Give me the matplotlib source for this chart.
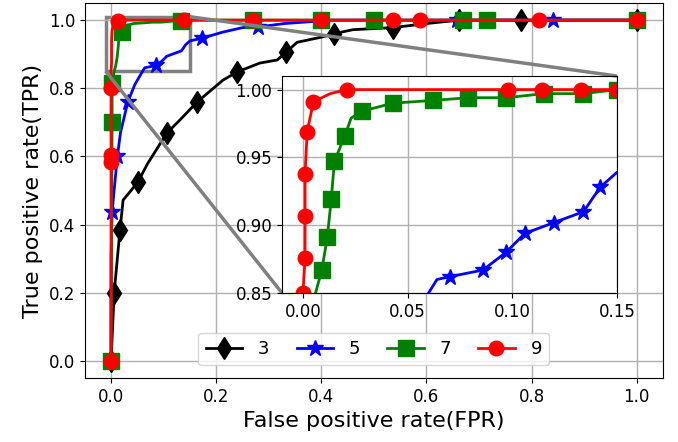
import matplotlib
matplotlib.use("Agg")
import matplotlib.pyplot as plt
from mpl_toolkits.axes_grid1.inset_locator import mark_inset


# ROC curves (false positive rate, true positive rate)
fpr3 = [0, 0.006, 0.017, 0.023, 0.036, 0.051, 0.07, 0.106, 0.131, 0.164, 0.213, 0.24,
        0.283, 0.316, 0.333, 0.354, 0.40, 0.424, 0.46, 0.536, 0.60, 0.662, 0.78, 1.0]
tpr3 = [0, 0.20, 0.384, 0.472, 0.496, 0.525, 0.58, 0.668, 0.707, 0.76, 0.824, 0.848,
        0.874, 0.883, 0.906, 0.935, 0.95, 0.960, 0.972, 0.978, 0.99, 1.0, 1.0, 1.0]

fpr5 = [0, 0.0, 0.002, 0.012, 0.018, 0.032, 0.045, 0.060, 0.064, 0.070, 0.086, 0.097,
        0.106, 0.120, 0.134, 0.142, 0.15, 0.173, 0.213, 0.25, 0.28, 0.33, 0.42, 0.55,
        0.658, 0.84, 1.0]
tpr5 = [0, 0.30, 0.437, 0.60, 0.67, 0.76, 0.81, 0.85, 0.860, 0.862, 0.867, 0.880,
        0.894, 0.902, 0.910, 0.928, 0.939, 0.947, 0.965, 0.978, 0.980, 0.99, 1.0, 1.0,
        1.0, 1.0, 1.0]

fpr7 = [0, 0.002, 0.002, 0.006, 0.009, 0.0116, 0.0135, 0.015, 0.020, 0.023, 0.028,
        0.043, 0.062, 0.079, 0.097, 0.115, 0.134, 0.15, 0.27, 0.40, 0.50, 0.67, 0.715, 1.0]
tpr7 = [0, 0.70, 0.815, 0.85, 0.867, 0.891, 0.919, 0.947, 0.966, 0.979, 0.984,
        0.990, 0.992, 0.994, 0.994, 0.997, 0.997, 1.0, 1.0, 1.0, 1.0, 1.0, 1.0, 1.0]

fpr9 = [0, 0, 0, 0, 0, 0.001, 0.001, 0.001, 0.002, 0.005, 0.013, 0.021, 0.098, 0.114,
        0.133, 0.139, 0.15, 0.27, 0.40, 0.536, 0.587, 0.814, 1.0]
tpr9 = [0, 0.584, 0.604, 0.80, 0.85, 0.876, 0.907, 0.938, 0.969, 0.991, 0.997, 1.0, 1.0,
        1.0, 1.0, 1.0, 1.0, 1.0, 1.0, 1.0, 1.0, 1.0, 1.0]

# which vertices carry a marker in the full view and in the zoomed view
marks3_main = [0, 1, 2, 5, 7, 9, 11, 14, 17, 19, 21, 22, 23]
marks5_main = [0, 2, 3, 5, 10, 17, 20, 24, 25]
marks5_zoom = [9, 10, 11, 12, 13, 14, 15]
marks7_main = [0, 1, 2, 8, 16, 18, 19, 20, 21, 22, 23]
marks7_zoom = [4, 5, 6, 7, 8, 10, 11, 12, 13, 14, 15, 16, 17]
marks9_main = [0, 1, 2, 3, 10, 15, 17, 18, 19, 20, 21, 22]
marks9_zoom = [4, 5, 6, 7, 8, 9, 11, 12, 13, 14, 16]

labels = ["3", "5", "7", "9"]

STYLES = [
    dict(color="black", marker="d", markersize=11.5),
    dict(color="blue", marker="*", markersize=12),
    dict(color="green", marker="s", markersize=11),
    dict(color="red", marker="o", markersize=10.5),
]


def draw(ax, curves, marks):
    for (x, y), every, label, style in zip(curves, marks, labels, STYLES):
        if every is None:
            ax.plot(x, y, color=style["color"], linewidth=2, label=label)
        else:
            ax.plot(x, y, linewidth=2, markevery=every, label=label, **style)


curves = [(fpr3, tpr3), (fpr5, tpr5), (fpr7, tpr7), (fpr9, tpr9)]

fig = plt.figure(figsize=(6.78, 4.42), dpi=100)
ax = fig.add_axes([0.125, 0.145, 0.853, 0.848])
draw(ax, curves, [marks3_main, marks5_main, marks7_main, marks9_main])
ax.set_xlim(-0.05, 1.05)
ax.set_ylim(-0.05, 1.05)
ax.set_xticks([0.0, 0.2, 0.4, 0.6, 0.8, 1.0])
ax.set_yticks([0.0, 0.2, 0.4, 0.6, 0.8, 1.0])
ax.tick_params(labelsize=12)
ax.grid(True, color="#b0b0b0", linewidth=1)
ax.set_xlabel("False positive rate(FPR)", fontsize=16)
ax.set_ylabel("True positive rate(TPR)", fontsize=16)
ax.legend(loc="lower center", ncol=4, fontsize=13, borderaxespad=0.7,
          columnspacing=1.5, handletextpad=0.9)

axins = fig.add_axes([0.416, 0.337, 0.494, 0.491])
draw(axins, curves, [None, marks5_zoom, marks7_zoom, marks9_zoom])
axins.set_xlim(-0.01, 0.15)
axins.set_ylim(0.85, 1.01)
axins.set_xticks([0.0, 0.05, 0.10, 0.15])
axins.set_yticks([0.85, 0.90, 0.95, 1.00])
axins.tick_params(labelsize=12)
axins.grid(True, color="#b0b0b0", linewidth=1)
mark_inset(ax, axins, loc1=1, loc2=3, fc="none", ec="0.5", lw=2.5)

fig.savefig("out.png", dpi=100)
